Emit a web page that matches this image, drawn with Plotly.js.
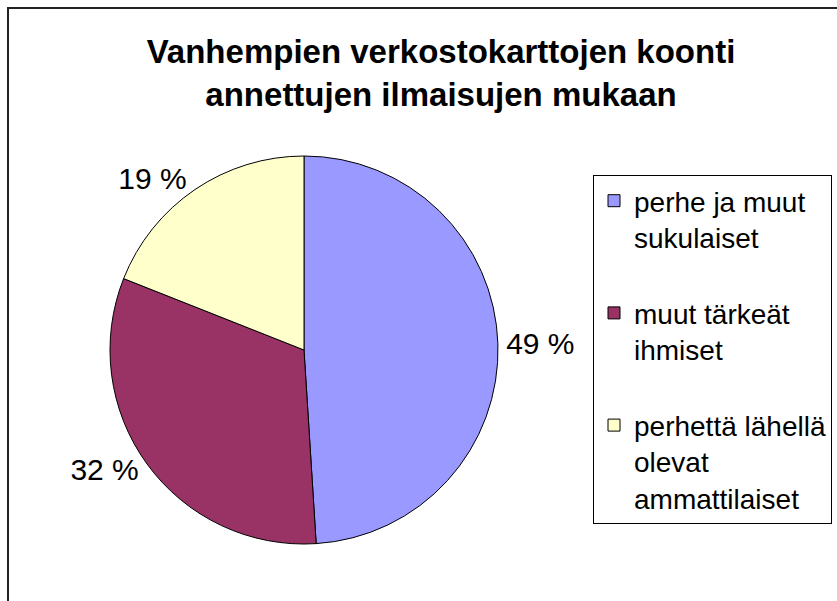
<!DOCTYPE html>
<html>
<head>
<meta charset="utf-8">
<script src="https://cdn.plot.ly/plotly-3.0.1.min.js"></script>
<style>
  html, body { margin: 0; padding: 0; width: 837px; height: 601px; overflow: hidden; background: #fff; }
  #frame { position: absolute; left: 7px; top: 7px; width: 900px; height: 700px; border-top: 2px solid #222; border-left: 2px solid #222; box-sizing: border-box; pointer-events: none; z-index: 5; }
  #chart { position: absolute; left: 0; top: 0; width: 837px; height: 601px; }
</style>
</head>
<body>
<div id="chart"></div>
<div id="frame"></div>
<script>
const chartTitle = "Vanhempien verkostokarttojen koonti<br>annettujen ilmaisujen mukaan";
const categories = ["perhe ja muut<br>sukulaiset<br> ", "muut tärkeät<br>ihmiset<br> ", "perhettä lähellä<br>olevat<br>ammattilaiset"];
const values = [49, 32, 19];
const labelsText = ["49 %", "32 %", "19 %"];
const colors = ["#9999FF", "#993366", "#FFFFCC"];

const W = 837, H = 601;
const cx = 304, cy = 350, r = 194;

const trace = {
  type: "pie",
  labels: categories,
  values: values,
  text: labelsText,
  textinfo: "text",
  textposition: "outside",
  sort: false,
  direction: "clockwise",
  rotation: 0,
  hoverinfo: "skip",
  marker: { colors: colors, line: { color: "#000", width: 1 } },
  outsidetextfont: { family: "Liberation Sans, Arial, sans-serif", size: 30, color: "#000" },
  domain: { x: [(cx - r) / W, (cx + r) / W], y: [(H - cy - r) / H, (H - cy + r) / H] },
  automargin: false
};

const layout = {
  width: W, height: H,
  margin: { l: 0, r: 0, t: 0, b: 0 },
  paper_bgcolor: "#fff",
  showlegend: true,
  title: {
    text: chartTitle,
    font: { family: "Liberation Sans, Arial, sans-serif", size: 33, color: "#000", weight: "bold" },
    x: 441 / W, xanchor: "center", xref: "paper",
    y: 1 - 63 / H, yanchor: "top", yref: "container"
  },
  legend: {
    x: 593 / W, xanchor: "left",
    y: 1 - 175 / H, yanchor: "top",
    bordercolor: "#000", borderwidth: 1,
    bgcolor: "#fff",
    valign: "top",
    font: { family: "Liberation Sans, Arial, sans-serif", size: 28, color: "#000" },
    traceorder: "normal"
  }
};

Plotly.newPlot("chart", [trace], layout, { displayModeBar: false, staticPlot: true });
</script>
</body>
</html>
